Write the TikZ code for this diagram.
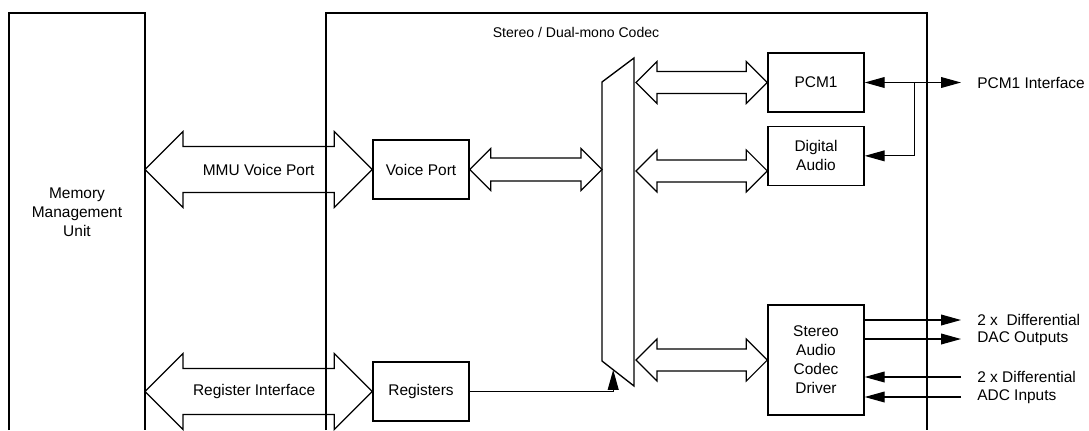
\documentclass[tikz,border=0pt]{standalone}
\usepackage{fontspec}
\setmainfont{Liberation Sans}
\usetikzlibrary{arrows.meta,calc,positioning}
\tikzset{box/.style={draw,line width=0.95pt,align=center,minimum width=2.4cm,minimum height=1.475cm,inner sep=2pt},
  outer/.style={line width=1.8pt},
  fat/.style={draw,line width=0.85pt,line join=miter},
  arr/.style={line width=0.8pt,->},
  both/.style={line width=0.8pt,<->},
  lbl/.style={anchor=west,inner xsep=0.4cm,inner ysep=0pt}}
\newcommand{\fatarrow}[4]{%
  \draw[fat] (#1) -- ($(#1)+(#4,#4)$) -- ($(#1)+(#4,#3)$) -- ($(#2)+(-#4,#3)$) -- ($(#2)+(-#4,#4)$) -- (#2)
    -- ($(#2)+(-#4,-#4)$) -- ($(#2)+(-#4,-#3)$) -- ($(#1)+(#4,-#3)$) -- ($(#1)+(#4,-#4)$) -- cycle;}
\begin{document}
\begin{tikzpicture}[x=0.025cm,y=-0.025cm,font=\fontsize{11}{13.5}\selectfont,
  >={Triangle[length=0.5cm,width=0.27cm]}]
\useasboundingbox (0,0) rectangle (1089,430);
\draw[outer] (9,430) |- (145,13) -- (145,430);
\draw[outer] (326,430) |- (927,13) -- (927,430);
\coordinate (mmuR) at (145,13);
\node[align=center] (mmu) at (77,212) {Memory\\Management\\Unit};
\node[font=\fontsize{10}{12}\selectfont] (title) at (576,32) {Stereo / Dual-mono Codec};
\node[box] (vp) at (421,169.5) {Voice Port};
\node[box] (reg) at (421,391.5) {Registers};
\node[box] (pcm) at (816,82.5) {PCM1};
\node[box,below=0.325cm of pcm] (da) {Digital\\Audio};
\node[box,minimum height=2.75cm] (drv) at (816,360) {Stereo\\Audio\\Codec\\Driver};
\coordinate (muxTL) at (602,82);
\coordinate (muxTR) at (634,58);
\coordinate (muxBR) at (634,386);
\coordinate (muxBL) at (602,361);
\coordinate (muxRt) at (636,58);
\draw[line width=0.95pt] (muxTL) -- (muxTR) -- (muxBR) -- (muxBL) -- cycle;
\coordinate (mv) at (vp.west -| mmuR);
\coordinate (mr) at (reg.west -| mmuR);
\fatarrow{mv}{vp.west}{23}{38}
\fatarrow{mr}{reg.west}{23}{38}
\node (mvtxt) at ($(mv)!0.5!(vp.west)$) {MMU Voice Port};
\node (mrtxt) at ($(mr)!0.48!(reg.west)$) {Register Interface};
\coordinate (vm) at (vp.east -| muxTL);
\coordinate (mp) at (pcm.west -| muxRt);
\coordinate (dain) at ($(da.south west)!0.25!(da.north west)$);
\coordinate (md) at (dain -| muxRt);
\coordinate (mdr) at (drv.west -| muxRt);
\fatarrow{vp.east}{vm}{11.5}{21}
\fatarrow{mp}{pcm.west}{11}{21}
\fatarrow{md}{dain}{11}{21}
\fatarrow{mdr}{drv.west}{11}{21}
\node[lbl] (pcmif) at (961,82.5) {PCM1 Interface};
\coordinate (tap) at ($(pcm.east)+(50,0)$);
\draw[both] (pcm.east) -- (pcmif.west);
\draw[arr] (tap) |- (da.east);
\node[lbl] (dac1) at (961,320) {2 x\ \ Differential};
\node[lbl] (dac2) at (961,339) {DAC Outputs};
\node[lbl] (adc1) at (961,377) {2 x Differential};
\node[lbl] (adc2) at (961,397) {ADC Inputs};
\draw[arr] (drv.east |- dac1) -- (dac1.west);
\draw[arr] (drv.east |- dac2) -- (dac2.west);
\draw[arr] (adc1.west) -- (drv.east |- adc1);
\draw[arr] (adc2.west) -- (drv.east |- adc2);
\coordinate (muxin) at ($(muxBL)!0.35!(muxBR)$);
\draw[arr] (reg.east) -| (muxin);
\end{tikzpicture}
\end{document}
